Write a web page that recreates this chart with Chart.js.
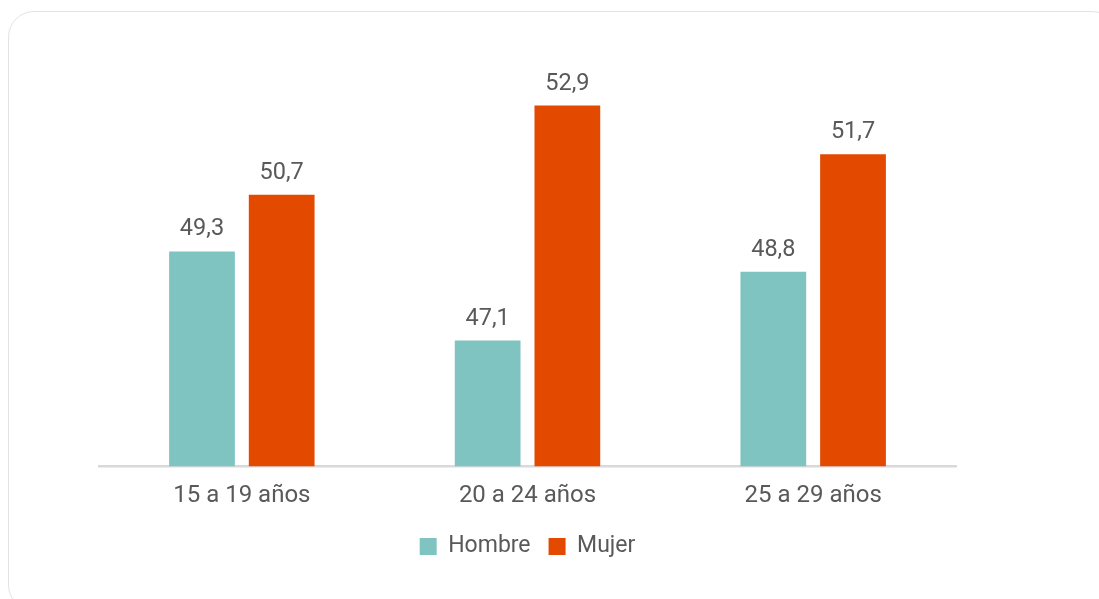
<!DOCTYPE html>
<html>
<head>
<meta charset="utf-8">
<script src="https://cdn.jsdelivr.net/npm/chart.js@4"></script>
<style>
  html, body { margin: 0; padding: 0; background: #fff; overflow: hidden; }
  .card {
    position: absolute; left: 8px; top: 11px; width: 1110px; height: 600px;
    border: 1.5px solid #e3e3e6; border-radius: 26px; box-sizing: border-box;
  }
  .wrap { position: absolute; left: 0; top: 0; width: 1099px; height: 599px; }
</style>
</head>
<body>
<div class="card"></div>
<div class="wrap"><canvas id="myChart"></canvas></div>
<script>
  var categories = ['15 a 19 años', '20 a 24 años', '25 a 29 años'];
  var hombre = [49.3, 47.1, 48.8];
  var mujer = [50.7, 52.9, 51.7];

  // etiquetas de valor encima de cada barra
  var valueLabels = {
    id: 'valueLabels',
    afterDatasetsDraw: function (chart) {
      var ctx = chart.ctx;
      ctx.save();
      ctx.font = '23.5px Roboto';
      ctx.fillStyle = '#595959';
      ctx.textAlign = 'center';
      ctx.textBaseline = 'alphabetic';
      chart.data.datasets.forEach(function (ds, i) {
        chart.getDatasetMeta(i).data.forEach(function (bar, j) {
          ctx.fillText(ds.data[j].toFixed(1).replace('.', ','), bar.x, bar.y - 16);
        });
      });
      ctx.restore();
    }
  };

  var ctx = document.getElementById('myChart').getContext('2d');
  var chart = new Chart(ctx, {
    type: 'bar',
    data: {
      labels: categories,
      datasets: [
        { label: 'Hombre', backgroundColor: '#80c4c2', data: hombre },
        { label: 'Mujer', backgroundColor: '#e34a00', data: mujer }
      ]
    },
    options: {
      responsive: true,
      maintainAspectRatio: false,
      animation: false,
      categoryPercentage: 0.558,
      barPercentage: 0.825,
      layout: { padding: { left: 99, right: 143, top: 61, bottom: 31 } },
      plugins: {
        legend: {
          position: 'bottom',
          labels: {
            boxWidth: 17, boxHeight: 17, padding: 18,
            color: '#595959',
            font: { family: 'Roboto', size: 23 }
          }
        },
        tooltip: { enabled: false }
      },
      scales: {
        x: {
          grid: { display: false },
          border: { color: '#d9d9dc', width: 2.5 },
          ticks: { color: '#595959', padding: 7, font: { family: 'Roboto', size: 24 } }
        },
        y: { display: false, min: 44, max: 54 }
      }
    },
    plugins: [valueLabels]
  });
</script>
</body>
</html>
